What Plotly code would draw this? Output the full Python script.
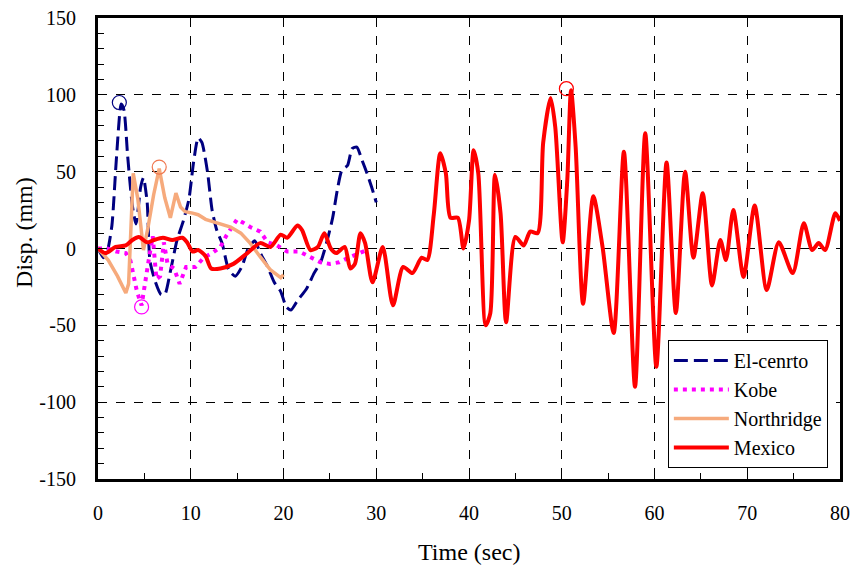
import plotly.graph_objects as go

# --- data (time in s, displacement in mm) ---
elc_t = [0, 0.6, 1.0, 1.5, 2.0, 2.5, 2.8, 3.2, 3.7, 4.1, 4.6, 4.9, 5.3, 5.6, 6.2, 6.8, 7.2, 7.8, 8.5,
         9.2, 9.8, 10.3, 10.8, 11.2, 11.8, 12.3, 12.8, 13.4, 14.1, 14.8, 15.5, 16.2, 16.9, 17.5, 18.3,
         19.0, 19.7, 20.3, 20.8, 21.5, 22.5, 23.3, 24.0, 24.7, 25.3, 25.8, 26.3, 26.9, 27.4, 27.9,
         28.5, 29.0, 29.5, 30.0]
elc_d = [0, -6, -2, 15, 60, 94, 90, 60, 28, 16, 40, 46, 30, -8, -22, -30, -30, -15, 5,
         18, 32, 56, 72, 69, 50, 25, 12, 3, -14, -18, -12, 0, 5, -3, -12,
         -22, -28, -38, -40, -34, -26, -16, -9, 5, 20, 38, 51, 54, 65, 66,
         57, 49, 40, 30]

kobe_t = [0, 1.0, 2.0, 3.0, 3.5, 3.8, 4.2, 4.7, 5.1, 5.4, 5.9, 6.3, 6.7, 7.1, 7.5, 8.2, 8.8, 9.5,
          10.5, 11.4, 12.3, 13.2, 13.8, 14.5, 15.0, 15.6, 16.4, 17.5, 18.3, 19.3, 20.4, 21.7, 22.9,
          24.0, 25.0, 26.0, 27.0, 27.9, 29.0]
kobe_d = [0, 0, -2, -3, -8, -16, -28, -37, -20, -10, 8, -20, -18, 4, -10, -13, -23, -12,
          -12, -6, -3, 1, 8, 14, 19, 17, 14, 11, 4, 2, -2, -2, -6,
          -9, -10, -9, -6, -4, -1]

nr_t = [0, 1.1, 2.1, 3.0, 3.3, 3.8, 4.3, 4.9, 5.4, 6.0, 6.6, 7.2, 7.8, 8.4, 8.9, 9.4, 10.2, 10.8,
        11.6, 12.1, 13.2, 14.3, 15.4, 16.4, 17.5, 18.6, 19.7, 20.0]
nr_d = [0, -7.5, -18, -29, -23, 49, 32, -1, 14, 35, 52, 33, 20, 36, 27, 24, 23, 22,
        19, 18, 16, 14, 10, 3.5, -5.5, -14, -19, -17]

mex_t = [0, 0.8, 1.9, 3.0, 3.7, 4.4, 5.3, 6.0, 7.0, 8.0, 9.1, 9.6, 10.2, 10.8, 11.6, 12.2, 13.2,
         14.6, 16.1, 17.5, 18.6, 19.7, 20.4, 21.5, 22.0, 22.9, 23.7, 24.4, 25.1, 25.7, 26.6, 27.2,
         27.7, 28.3, 28.8, 29.6, 30.7, 31.8, 32.9, 33.9, 34.9, 35.5, 36.2, 36.9, 37.5, 38.0, 38.8,
         39.4, 40.0, 40.5, 41.0, 41.8, 42.3, 42.8, 43.4, 44.0, 45.0, 45.9, 46.6, 47.4, 48.0, 48.8,
         49.3, 50.1, 50.6, 51.0, 51.5, 52.3, 53.4, 54.4, 55.6, 56.7, 57.9, 59.0, 60.2, 61.3, 62.3,
         63.3, 64.2, 65.2, 66.2, 67.1, 67.7, 68.5, 69.6, 70.8, 72.1, 73.4, 74.9, 76.1, 77.0, 77.7,
         78.4, 79.5, 80.0]
mex_d = [0, -3, 1, 2, 5.5, 7.5, 4, 5.5, 7, 5.5, 7, 4, -2, -1, -5, -13, -13,
         -10, -3, 3.5, 1, 9, 7, 15, 12, -1, 1, 10, 0, -3, 1, -13,
         -10, 10, 3.5, -22, 1, -37, -12, -16, -6, -7.5, 22, 62, 49, 20, 20,
         0, 18, 64, 49, -50, -42, 48, 23, -48, 7.5, 2, 11, 10, 69, 98,
         79, 4, 45, 103, 66, -36, 34, 1, -55, 63, -90, 75, -77, 56, -42,
         50, -6, 36, -24, 5.5, -7.5, 25, -18.5, 28, -27, 4, -16, 16.5, -1, 3.5,
         -1, 23, 18]

# circled peak values
peak_t = {"El-cenrto": 2.3, "Kobe": 4.7, "Northridge": 6.6, "Mexico": 50.5}
peak_d = {"El-cenrto": 95, "Kobe": -38, "Northridge": 53, "Mexico": 104}

y_ticks = [-150, -100, -50, 0, 50, 100, 150]
y_labels = ["-150", "-100", "-50", "0", "50", "100", "150"]
x_ticks = [0, 10, 20, 30, 40, 50, 60, 70, 80]

serif = "Liberation Serif"
NAVY = "#000080"
MAG = "#FF00FF"
SAND = "#F6AA7C"
RED = "#FF0000"

fig = go.Figure()

fig.add_trace(go.Scatter(x=elc_t, y=elc_d, mode="lines", name="El-cenrto", legendgroup="a",
                         line=dict(color=NAVY, width=3, dash="14px,6px", shape="spline", smoothing=0.6)))
fig.add_trace(go.Scatter(x=kobe_t, y=kobe_d, mode="lines", name="Kobe", legendgroup="b",
                         line=dict(color=MAG, width=4, dash="4px,5px")))
fig.add_trace(go.Scatter(x=nr_t, y=nr_d, mode="lines", name="Northridge", legendgroup="c",
                         line=dict(color=SAND, width=3.5)))
fig.add_trace(go.Scatter(x=mex_t, y=mex_d, mode="lines", name="Mexico", legendgroup="d",
                         line=dict(color=RED, width=4, shape="spline", smoothing=0.7)))

for name, col in [("El-cenrto", NAVY), ("Kobe", MAG), ("Northridge", "#F07850"), ("Mexico", RED)]:
    fig.add_trace(go.Scatter(x=[peak_t[name]], y=[peak_d[name]], mode="markers", showlegend=False,
                             marker=dict(symbol="circle-open", size=14, color=col, line=dict(width=1.2))))

# legend shadow
fig.add_shape(type="rect", xref="paper", yref="paper",
              x0=0.7737, x1=0.9825, y0=0.026, y1=0.293,
              fillcolor="black", line=dict(width=0), layer="above")

# page has an 8px body margin, so the figure is drawn 8px smaller than the window
fig.update_layout(
    width=855, height=558,
    margin=dict(l=90, r=23, t=10, b=87, autoexpand=False),
    plot_bgcolor="white", paper_bgcolor="white",
    font=dict(family=serif, size=20, color="black"),
    legend=dict(x=0.768, y=0.3015, xanchor="left", yanchor="top",
                bgcolor="white", bordercolor="black", borderwidth=1, itemwidth=55,
                font=dict(family=serif, size=20, color="black"), tracegroupgap=6, traceorder="normal"),
    xaxis=dict(range=[0, 80], tickvals=x_ticks, showline=True, mirror=True, linecolor="black", linewidth=3,
               ticks="inside", ticklen=0, showgrid=True, gridcolor="black", griddash="dash", gridwidth=1,
               minor=dict(dtick=5, ticks="inside", ticklen=6, tickcolor="black", showgrid=False),
               zeroline=False, ticklabelstandoff=14, automargin=False, ticklabeloverflow="allow",
               tickfont=dict(family=serif, size=20, color="black")),
    yaxis=dict(range=[-150, 150], tickvals=y_ticks, ticktext=y_labels, showline=True, mirror=True,
               linecolor="black", linewidth=3, ticks="inside", ticklen=0,
               showgrid=True, gridcolor="black", griddash="dash", gridwidth=1,
               minor=dict(dtick=10, ticks="inside", ticklen=6, tickcolor="black", showgrid=False),
               zeroline=False, ticklabelstandoff=15, automargin=False, ticklabeloverflow="allow",
               tickfont=dict(family=serif, size=20, color="black")),
    annotations=[
        dict(text="Time (sec)", xref="paper", yref="paper", x=0.5, y=-0.158, xanchor="center",
             yanchor="middle", showarrow=False, font=dict(family=serif, size=24)),
        dict(text="Disp. (mm)", xref="paper", yref="paper", x=-0.099, y=0.535, xanchor="center",
             yanchor="middle", textangle=-90, showarrow=False, font=dict(family=serif, size=24)),
    ],
)

fig.write_html("out.html")
